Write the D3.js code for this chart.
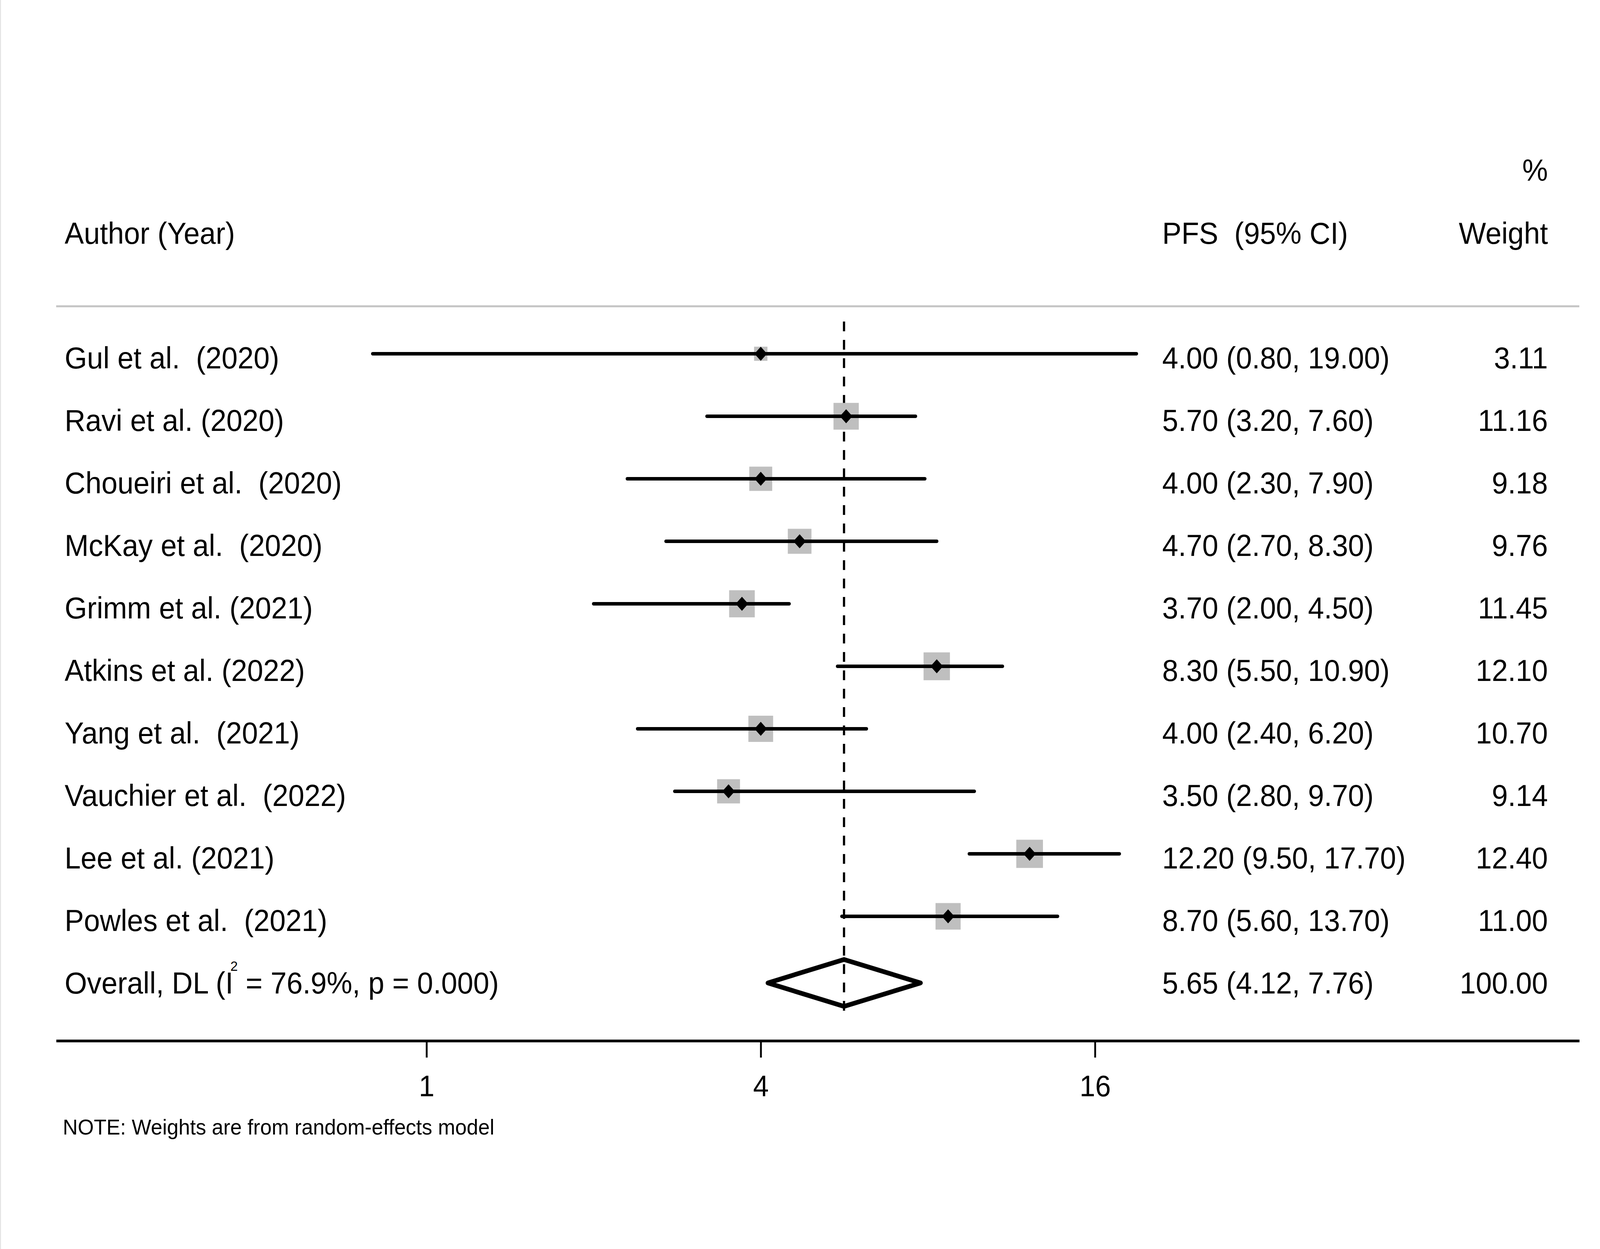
<!DOCTYPE html>
<html>
<head>
<meta charset="utf-8">
<script src="https://cdn.jsdelivr.net/npm/d3@7"></script>
<style>
  html, body { margin: 0; height: 100%; overflow: hidden; background: #fff; }
  svg { display: block; width: 100vw; height: 100vh; font-family: "Liberation Sans", Arial, sans-serif; }
  text { white-space: pre; }
</style>
</head>
<body>
<svg viewBox="0 0 4331 3197" preserveAspectRatio="none"></svg>
<script>
//  Forest plot, PFS (95% CI) per study, log2 x axis
//  The viewBox is 4331x3197, stretched to whatever window we get

//  Data
const studies = ['Gul et al.  (2020)', 'Ravi et al. (2020)', 'Choueiri et al.  (2020)',
    'McKay et al.  (2020)', 'Grimm et al. (2021)', 'Atkins et al. (2022)',
    'Yang et al.  (2021)', 'Vauchier et al.  (2022)', 'Lee et al. (2021)', 'Powles et al.  (2021)'];
const pfs     = [4.00, 5.70, 4.00, 4.70, 3.70, 8.30, 4.00, 3.50, 12.20, 8.70];
const ciLow   = [0.80, 3.20, 2.30, 2.70, 2.00, 5.50, 2.40, 2.80, 9.50, 5.60];
const ciHigh  = [19.00, 7.60, 7.90, 8.30, 4.50, 10.90, 6.20, 9.70, 17.70, 13.70];
const weights = [3.11, 11.16, 9.18, 9.76, 11.45, 12.10, 10.70, 9.14, 12.40, 11.00];

const overallLabel = 'Overall, DL (I';
const overallStats = ' = 76.9%, p = 0.000)';
const overall = { est: 5.65, lo: 4.12, hi: 7.76, weight: 100.00 };

const tickValues = [1, 4, 16];
const noteText = 'NOTE: Weights are from random-effects model';

const svg = d3.select('svg');
const fmt = d3.format('.2f');

//======================================================
//  Scales
//======================================================
const x = d3.scaleLog().base(2).domain([1, 16]).range([1154.5, 2964]);
//  stretch the axis out to the full width of the plot
x.domain([x.invert(152), x.invert(4275)]).range([152, 4275]);

const rows = studies.concat(['overall']);
const yBase = d3.scalePoint().domain(rows).range([943, 2543]);   //  text baselines

const FONT = 78;
const colName = 175, colCI = 3146, colW = 4190;
const MARK = -37.5;    //  marker offset from the text baseline

//======================================================
//  Header
//======================================================
const header = svg.append('g').attr('id', 'header').style('font-size', FONT + 'px');

header.append('text').attr('x', colW).attr('y', 463).attr('text-anchor', 'end').text('%');
header.append('text').attr('x', colName).attr('y', 624).text('Author (Year)');
header.append('text').attr('x', colCI).attr('y', 624).text('PFS  (95% CI)');
header.append('text').attr('x', colW).attr('y', 624).attr('text-anchor', 'end').text('Weight');

svg.append('line')
    .attr('x1', 152).attr('x2', 4275)
    .attr('y1', 784).attr('y2', 784)
    .attr('stroke', '#c4c4c4')
    .attr('stroke-width', 5);

//  faint frame edge on the left
svg.append('line')
    .attr('x1', 1).attr('x2', 1).attr('y1', 0).attr('y2', 3197)
    .attr('stroke', '#e2e2e2').attr('stroke-width', 3);

//======================================================
//  Reference line at the overall estimate
//======================================================
svg.append('line')
    .attr('id', 'ref_line')
    .attr('x1', x(overall.est)).attr('x2', x(overall.est))
    .attr('y1', 823).attr('y2', 2590)
    .attr('stroke', 'black')
    .attr('stroke-width', 6)
    .attr('stroke-dasharray', '25 22');

//======================================================
//  Studies
//======================================================
const studyG = svg.append('g').attr('id', 'studies');

const row = studyG.selectAll('g.row')
    .data(studies.map((s, i) => ({ name: s, est: pfs[i], lo: ciLow[i], hi: ciHigh[i], w: weights[i] })))
    .join('g')
    .attr('class', 'row')
    .attr('transform', d => `translate(0, ${yBase(d.name)})`);

//  weight boxes, side ~ sqrt(weight)
const box = w => 20.5 * Math.sqrt(w);

row.append('rect')
    .attr('x', d => x(d.est) - box(d.w) / 2)
    .attr('y', d => MARK - box(d.w) / 2)
    .attr('width', d => box(d.w))
    .attr('height', d => box(d.w))
    .attr('fill', '#bfbfbf');

row.append('line')
    .attr('x1', d => x(d.lo)).attr('x2', d => x(d.hi))
    .attr('y1', MARK).attr('y2', MARK)
    .attr('stroke', 'black')
    .attr('stroke-width', 9)
    .attr('stroke-linecap', 'round');

row.append('path')
    .attr('d', d => `M${x(d.est) - 17},${MARK} L${x(d.est)},${MARK - 18} L${x(d.est) + 17},${MARK} L${x(d.est)},${MARK + 18} Z`)
    .attr('fill', 'black');

row.append('text')
    .attr('x', colName)
    .style('font-size', FONT + 'px')
    .text(d => d.name);

row.append('text')
    .attr('x', colCI)
    .style('font-size', FONT + 'px')
    .text(d => `${fmt(d.est)} (${fmt(d.lo)}, ${fmt(d.hi)})`);

row.append('text')
    .attr('x', colW)
    .attr('text-anchor', 'end')
    .style('font-size', FONT + 'px')
    .text(d => fmt(d.w));

//======================================================
//  Overall
//======================================================
const ov = svg.append('g').attr('id', 'overall')
    .attr('transform', `translate(0, ${yBase('overall')})`);

ov.append('path')
    .attr('d', `M${x(overall.lo)},-27 L${x(overall.est)},-87 L${x(overall.hi)},-27 L${x(overall.est)},33 Z`)
    .attr('fill', 'none')
    .attr('stroke', 'black')
    .attr('stroke-width', 12)
    .attr('stroke-linejoin', 'round');

const ovText = ov.append('text').attr('x', colName).style('font-size', FONT + 'px');
ovText.append('tspan').text(overallLabel);
ovText.append('tspan').attr('dx', -8).attr('dy', -58).style('font-size', '36px').text('2');
ovText.append('tspan').attr('dy', 58).text(overallStats);

ov.append('text')
    .attr('x', colCI)
    .style('font-size', FONT + 'px')
    .text(`${fmt(overall.est)} (${fmt(overall.lo)}, ${fmt(overall.hi)})`);

ov.append('text')
    .attr('x', colW)
    .attr('text-anchor', 'end')
    .style('font-size', FONT + 'px')
    .text(fmt(overall.weight));

//======================================================
//  X axis
//======================================================
const axis = svg.append('g')
    .attr('id', 'x_axis')
    .attr('transform', 'translate(0, 2664)')
    .call(d3.axisBottom(x).tickValues(tickValues).tickFormat(d3.format('d'))
        .tickSize(43).tickSizeOuter(0).tickPadding(45));

axis.select('.domain').attr('stroke-width', 7);
axis.selectAll('.tick line').attr('stroke-width', 5);
axis.selectAll('.tick text')
    .style('font-size', '76px')
    .style('font-family', '"Liberation Sans", Arial, sans-serif')
    .attr('fill', 'black');

//  Note
svg.append('text')
    .attr('x', 170).attr('y', 2904)
    .style('font-size', '56px')
    .text(noteText);
</script>
</body>
</html>
